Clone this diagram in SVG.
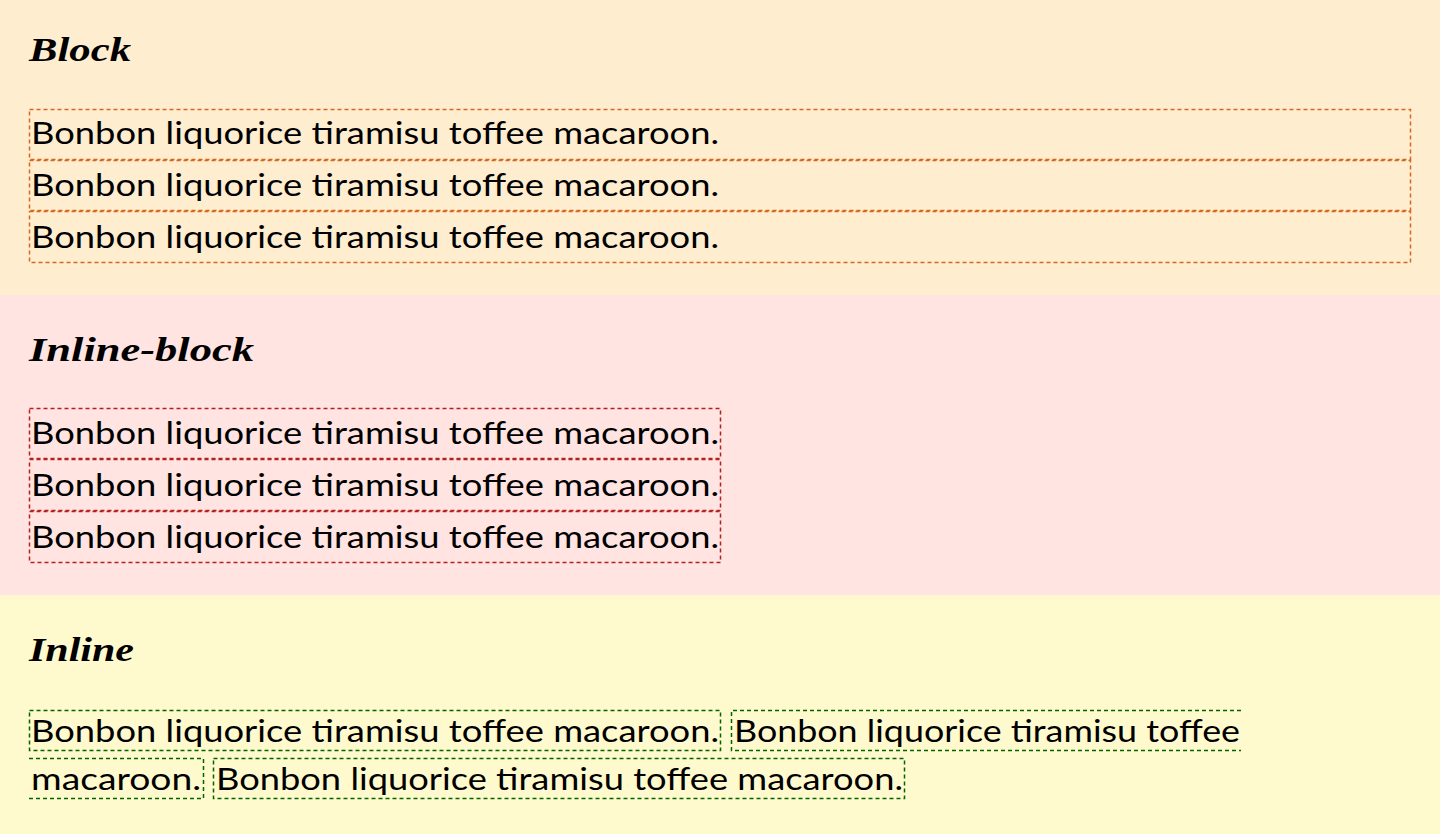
<svg xmlns="http://www.w3.org/2000/svg" width="1440" height="834" viewBox="0 0 1440 834">
<style>
.h{font-family:"Liberation Serif","DejaVu Serif",serif;font-weight:bold;font-style:italic;font-size:33px;fill:#000}
.t{font-family:"Lato","Noto Sans",sans-serif;font-size:31px;fill:#000}
.b{fill:none;stroke-width:1.5;stroke-dasharray:4 3}
.o{stroke:#D2691E}
.r{stroke:#B22222}
.g{stroke:#006400}
</style>
<g id="block-section">
<rect x="0" y="0" width="1440" height="295" fill="#FFEDD0"/>
<text class="h" x="29" y="61" textLength="102" lengthAdjust="spacingAndGlyphs">Block</text>
<g id="block-1"><rect class="b o" x="29.5" y="109.5" width="1381" height="50"/><text class="t" x="31" y="144" textLength="688" lengthAdjust="spacingAndGlyphs">Bonbon liquorice tiramisu toffee macaroon.</text></g>
<g id="block-2"><rect class="b o" x="29.5" y="160.5" width="1381" height="50"/><text class="t" x="31" y="196" textLength="688" lengthAdjust="spacingAndGlyphs">Bonbon liquorice tiramisu toffee macaroon.</text></g>
<g id="block-3"><rect class="b o" x="29.5" y="211.5" width="1381" height="51"/><text class="t" x="31" y="248" textLength="688" lengthAdjust="spacingAndGlyphs">Bonbon liquorice tiramisu toffee macaroon.</text></g>
</g>
<g id="inline-block-section">
<rect x="0" y="295" width="1440" height="300" fill="#FFE4E1"/>
<text class="h" x="29" y="361" textLength="225" lengthAdjust="spacingAndGlyphs">Inline-block</text>
<g id="ib-1"><rect class="b r" x="29.5" y="408.5" width="691" height="50"/><text class="t" x="31" y="444" textLength="688" lengthAdjust="spacingAndGlyphs">Bonbon liquorice tiramisu toffee macaroon.</text></g>
<g id="ib-2"><rect class="b r" x="29.5" y="459.5" width="691" height="51"/><text class="t" x="31" y="496" textLength="688" lengthAdjust="spacingAndGlyphs">Bonbon liquorice tiramisu toffee macaroon.</text></g>
<g id="ib-3"><rect class="b r" x="29.5" y="511.5" width="691" height="51"/><text class="t" x="31" y="548" textLength="688" lengthAdjust="spacingAndGlyphs">Bonbon liquorice tiramisu toffee macaroon.</text></g>
</g>
<g id="inline-section">
<rect x="0" y="595" width="1440" height="239" fill="#FFFACD"/>
<text class="h" x="29" y="661" textLength="105" lengthAdjust="spacingAndGlyphs">Inline</text>
<g id="in-1"><rect class="b g" x="29.5" y="710.5" width="691" height="40"/><text class="t" x="31" y="742" textLength="688" lengthAdjust="spacingAndGlyphs">Bonbon liquorice tiramisu toffee macaroon.</text></g>
<g id="in-2">
<path class="b g" d="M1241 710.5 H731.5 V750.5 H1241"/>
<text class="t" x="734" y="742" textLength="506" lengthAdjust="spacingAndGlyphs">Bonbon liquorice tiramisu toffee</text>
<path class="b g" d="M29 758.5 H203.5 V798.5 H29"/>
<text class="t" x="31" y="790" textLength="170" lengthAdjust="spacingAndGlyphs">macaroon.</text>
</g>
<g id="in-3"><rect class="b g" x="213.5" y="758.5" width="691" height="40"/><text class="t" x="216" y="790" textLength="687" lengthAdjust="spacingAndGlyphs">Bonbon liquorice tiramisu toffee macaroon.</text></g>
</g>
</svg>
